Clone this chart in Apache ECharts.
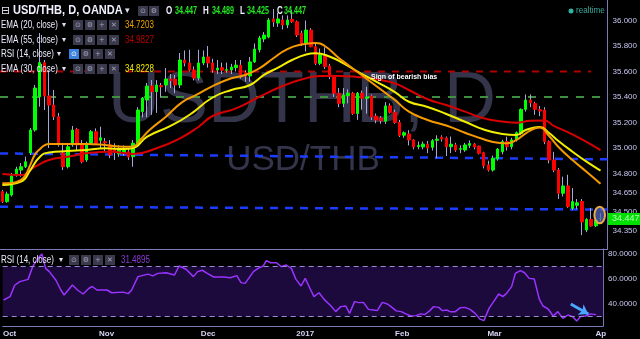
<!DOCTYPE html>
<html><head><meta charset="utf-8">
<script src="https://cdn.jsdelivr.net/npm/echarts@6/dist/echarts.min.js"></script>
<style>html,body{margin:0;padding:0;background:#000;}#c{width:640px;height:339px;}</style>
</head><body><div id="c"></div>
<script>
// ---------- DATA ----------
const openP = [
34.657,34.579,34.631,34.788,34.827,34.853,34.961,35.141,35.402,35.669,
35.408,35.337,35.245,34.961,34.853,35.024,35.147,35.024,34.906,35.037,
35.128,35.06,35.05,35.024,34.99,34.953,34.96,34.97,34.932,35.037,
35.285,35.376,35.486,35.442,35.49,35.494,35.54,35.541,35.494,35.69,
35.667,35.612,35.549,35.667,35.714,35.667,35.612,35.63,35.61,35.612,
35.63,35.65,35.59,35.565,35.675,35.77,35.855,35.87,36.012,35.98,
36.004,35.965,36.01,35.99,35.9,35.82,35.925,35.794,35.664,35.73,
35.643,35.56,35.43,35.35,35.41,35.43,35.27,35.43,35.39,35.408,
35.25,35.235,35.21,35.33,35.28,35.2,35.10,35.11,35.063,35.01,
35.008,35.03,35.005,35.06,35.085,35.078,35.01,35.024,34.99,34.984,
35.02,35.031,35.015,34.963,34.867,34.827,34.914,34.97,35.05,35.01,
35.063,35.115,35.303,35.376,35.35,35.30,35.298,35.05,34.906,34.827,
34.645,34.702,34.527,34.55,34.58,34.357,34.44,34.39,34.447];
const highP = [
34.67,34.657,34.804,34.853,34.882,34.932,35.157,35.494,35.902,35.69,
35.61,35.455,35.275,35.04,35.037,35.173,35.157,35.063,35.05,35.141,
35.154,35.167,35.078,35.063,35.037,35.02,35.02,35.0,35.063,35.32,
35.4,35.51,35.533,35.533,35.51,35.627,35.58,35.573,35.745,35.765,
35.77,35.64,35.77,35.765,35.8,35.7,35.69,35.67,35.67,35.66,
35.69,35.69,35.61,35.714,35.82,35.88,35.91,36.02,36.09,36.06,
36.04,36.04,36.083,36.0,35.92,36.0,35.94,35.82,35.78,35.79,
35.66,35.573,35.47,35.47,35.46,35.44,35.44,35.45,35.48,35.42,
35.27,35.25,35.36,35.35,35.30,35.22,35.13,35.14,35.07,35.05,
35.05,35.055,35.07,35.10,35.1,35.09,35.09,35.04,35.02,35.04,
35.06,35.04,35.02,34.97,34.9,34.94,35.0,35.065,35.089,35.08,
35.13,35.31,35.42,35.42,35.363,35.33,35.32,35.06,34.97,34.843,
34.775,34.79,34.686,34.60,34.60,34.45,34.53,34.45,34.489];
const lowP = [
34.569,34.571,34.62,34.775,34.775,34.843,34.945,35.128,35.324,35.298,
35.0,35.22,35.01,34.827,34.84,35.01,34.984,34.88,34.892,35.024,
35.024,34.997,34.97,34.92,34.906,34.93,34.94,34.906,34.853,35.02,
35.24,35.24,35.26,35.275,35.40,35.44,35.47,35.43,35.47,35.64,
35.6,35.53,35.53,35.65,35.63,35.59,35.58,35.58,35.59,35.58,
35.6,35.545,35.52,35.52,35.667,35.75,35.83,35.86,35.95,35.95,
35.93,35.94,35.98,35.87,35.8,35.757,35.79,35.65,35.65,35.62,
35.54,35.40,35.32,35.32,35.35,35.26,35.22,35.30,35.27,35.22,
35.195,35.19,35.19,35.27,35.19,35.086,35.08,35.02,34.99,34.99,
34.99,34.96,34.98,34.92,35.05,34.937,34.96,34.97,34.96,34.97,
35.0,34.99,34.95,34.84,34.815,34.815,34.90,34.95,34.98,34.99,
35.05,35.10,35.285,35.32,35.26,35.25,35.03,34.88,34.81,34.6,
34.62,34.53,34.513,34.52,34.317,34.34,34.383,34.38,34.425];
const closeP = [
34.579,34.639,34.78,34.835,34.853,34.892,35.141,35.47,35.669,35.408,
35.337,35.245,35.024,34.853,35.01,35.141,35.024,34.892,35.037,35.128,
35.037,35.08,35.04,34.945,34.975,34.984,34.99,34.93,35.037,35.298,
35.392,35.486,35.442,35.494,35.48,35.541,35.53,35.494,35.69,35.667,
35.612,35.549,35.667,35.714,35.667,35.612,35.627,35.61,35.615,35.635,
35.65,35.573,35.565,35.675,35.776,35.863,35.886,36.004,35.99,36.012,
35.965,36.004,35.99,35.886,35.82,35.925,35.794,35.664,35.73,35.638,
35.56,35.43,35.35,35.416,35.43,35.27,35.43,35.39,35.40,35.243,
35.22,35.214,35.33,35.28,35.2,35.1,35.12,35.063,35.008,35.02,
35.031,35.0,35.057,35.07,35.07,35.01,35.03,34.984,34.995,35.024,
35.035,35.008,34.958,34.86,34.827,34.92,34.992,35.05,35.01,35.063,
35.12,35.303,35.376,35.355,35.303,35.29,35.05,34.906,34.827,34.645,
34.702,34.54,34.58,34.57,34.42,34.44,34.388,34.435,34.447];

// EMA readings: [bar index, value]
const ema20 = [[0,34.723],[2,34.725],[4,34.75],[5,34.79],[6,34.87],[7,34.95],[8,34.99],[9,35.02],[10,35.031],[14,35.031],[18,35.031],[22,35.024],[26,35.01],[28,35.012],[29.5,35.063],[31.5,35.141],[35,35.245],[38.5,35.36],[41.5,35.416],[45,35.486],[49,35.547],[52,35.573],[55,35.625],[58,35.704],[61,35.776],[64,35.812],[67,35.824],[69,35.8],[72,35.706],[74,35.651],[76,35.596],[80,35.486],[84,35.376],[87,35.285],[91,35.22],[95,35.176],[99,35.12],[103,35.068],[106,35.042],[108,35.037],[110,35.063],[112,35.115],[114,35.155],[115,35.161],[117,35.094],[119,35.008],[122,34.906],[125,34.814],[128,34.72]];
const ema30 = [[0,34.71],[4,34.736],[6,34.827],[8,34.93],[10,34.965],[14,34.976],[18,34.984],[22,34.998],[26,34.992],[28,35.0],[31,35.089],[36,35.173],[40,35.259],[45,35.396],[49,35.455],[53,35.494],[56,35.573],[59,35.631],[62,35.69],[65,35.733],[67,35.743],[70,35.718],[73,35.663],[76,35.6],[80,35.52],[84,35.439],[87,35.363],[91,35.322],[95,35.267],[99,35.206],[103,35.145],[107,35.11],[110,35.102],[112,35.141],[115,35.165],[117,35.118],[119,35.055],[122,34.971],[125,34.893],[128,34.823]];
const ema55 = [[0,34.796],[4,34.788],[7,34.853],[10,34.906],[14,34.932],[18,34.958],[23,34.971],[28,34.953],[33,34.998],[38,35.076],[42,35.167],[45,35.251],[50,35.311],[55,35.402],[60,35.486],[64,35.537],[68,35.565],[72,35.565],[76,35.557],[80,35.539],[84,35.507],[87,35.455],[91,35.382],[95,35.337],[99,35.285],[103,35.233],[107,35.208],[110,35.198],[113,35.214],[116,35.216],[118,35.173],[121,35.125],[125,35.049],[128,34.983]];
const rsi14 = [[-0.3,43.2],[1.1,45.9],[2.1,55],[3.2,57.9],[5,59.7],[6,69.9],[7.1,76.5],[8,80],[8.8,68.5],[9.6,65.9],[11,59.2],[12.1,51.2],[12.8,47.2],[14.6,55.2],[15.7,51.2],[16.9,48],[18.2,52.6],[18.9,54],[19.9,51.2],[22.1,51.2],[23.1,49],[25.6,49.5],[26.7,48.3],[27.4,51],[28.8,61.9],[31,63.9],[32,62.5],[33.1,64.5],[34.9,65],[36.7,63.2],[37.7,70.4],[39.2,67.8],[40.8,61.9],[41.7,65.9],[42.7,67],[43.8,64.5],[45.2,61.6],[47.4,61.6],[48.8,61],[50.2,62.7],[51.1,57.1],[52,56.5],[53.8,65.9],[54.8,68.5],[55.9,70.4],[56.6,74.7],[57.5,73],[58.8,73],[59.8,69.9],[60.9,71.2],[62,68.5],[63,59.7],[64.1,54.4],[65,60.5],[66.2,51.2],[66.9,45.9],[68,49],[69.1,43.7],[70.6,38.4],[71.6,33.9],[72.7,37.9],[73.8,38.4],[74.6,32.5],[75.7,41.9],[76.6,41.1],[77.6,41.3],[78.7,35.7],[79.8,35.2],[80.6,34.7],[81.7,41.3],[82.8,40],[83.6,37.9],[84.7,34.5],[85.8,33.9],[86.8,32.1],[87.9,30.4],[89,30.7],[90,32.1],[90.9,31.6],[92,34.7],[92.8,37.9],[93.9,37.3],[94.7,34.7],[95.6,35.2],[96.4,33.9],[97.5,33.9],[98.6,37.1],[99.6,37.3],[100.7,35.7],[101.8,32.5],[102.8,28],[103.7,26.7],[104.8,36.5],[105.8,41.9],[106.9,48],[107.8,45.9],[108.6,48.5],[109.7,53.9],[110.5,64.5],[111.6,66.7],[112.5,65],[113.5,60.5],[114.6,60],[115.7,43.7],[116.5,38.4],[117.6,36],[118.7,30.4],[119.7,33.9],[120.8,28.5],[121.9,31.2],[122.9,29.9],[123.8,26.4],[124.6,29.9],[125.7,30.4],[126.8,32.1],[128,31.5]];

const priceTicks = [36.0,35.8,35.6,35.4,35.2,35.0,34.8,34.65,34.5,34.35];
const rsiTicks = [80,60,40];
const monthIdx = [1,22,44,65,86,106,129];
const monthLabels = ['Oct','Nov','Dec','2017','Feb','Mar','Ap'];
const redLevel = [[-0.5,35.6],[126,35.6]];
const greenLevel = [[-0.5,35.4],[128,35.4]];
const blueUpper = [[-0.5,34.957],[129.5,34.911]];
const blueLower = [[-0.5,34.54],[129.5,34.517]];
const rsiBands = [70,30];
const arrowPts = [[122.5,40],[126.3,32]];
const lastOHLC = ['34.447','34.489','34.425','34.447'];
const legendValues = ['34.7203','34.9827','34.8228','31.4895'];

// ---------- BUILD ----------
const N = 130;
const cats = Array.from({length:N},(_,i)=>String(i));
const wickData = openP.map((o,i)=>[o,closeP[i],lowP[i],highP[i]]);
const bodyData = openP.map((o,i)=>[o,closeP[i],Math.min(o,closeP[i]),Math.max(o,closeP[i])]);

const F = '"Liberation Sans", Arial, sans-serif';
function T(x,y,s,fill,size,bold,sx,font){
  return {type:'text',x:x,y:y,scaleX:sx||1,z:100,silent:true,
    style:{text:s,fill:fill,font:(bold?'bold ':'')+size+'px '+(font||F),textAlign:'left',textVerticalAlign:'middle',verticalAlign:'middle'}};
}
function B(x,y,glyph,bg,fg){
  return [{type:'rect',x:x,y:y,z:100,silent:true,shape:{width:10,height:10},style:{fill:bg}},
    {type:'text',x:x+5,y:y+5,z:101,silent:true,style:{text:glyph,fill:fg,font:'7px "DejaVu Sans"',textAlign:'center',textVerticalAlign:'middle',verticalAlign:'middle'}}];
}
const boxBg = '#3a3a4c', boxFg = '#a4a4bc';
const G = [];
// watermark
G.push({type:'text',x:302,y:102,z:-1,silent:true,style:{text:'USDTHB, D',fill:'#34354a',font:'72px '+F,textAlign:'center',textVerticalAlign:'middle',verticalAlign:'middle'}});
G.push({type:'text',x:303,y:160,z:-1,silent:true,style:{text:'USD/THB',fill:'#34354a',font:'35px '+F,textAlign:'center',textVerticalAlign:'middle',verticalAlign:'middle'}});
// title row
G.push(T(1,11,'⊟','#e8e8f8',11,false,1,'"DejaVu Sans"'));
G.push(T(13,11,'USD/THB, D, OANDA','#f0f0ff',12,true,0.92));
G.push(T(125,11,'▾','#e0e0f0',9,false,1,'"DejaVu Sans"'));
G.push(...B(138,6,'⊙',boxBg,boxFg),...B(149,6,'⚙',boxBg,boxFg));
const ohlcX = [[166,175],[203,212],[240,247],[277,284]];
['O','H','L','C'].forEach((k,i)=>{
  G.push(T(ohlcX[i][0],11,k,'#f0f0ff',10,true,0.8));
  G.push(T(ohlcX[i][1],11,lastOHLC[i],'#22e622',10,true,0.72));
});
function row(y,label,arrowX,bx,blue,val,valColor){
  G.push(T(1,y,label,'#ececff',10,false,0.8));
  G.push(T(arrowX,y,'▾','#e0e0f0',8,false,1,'"DejaVu Sans"'));
  const gl=['⊙','⚙','+','✕'];
  gl.forEach((g,i)=>{G.push(...B(bx+i*12,y-5,g,(blue&&i===0)?'#3a80dc':boxBg,(blue&&i===0)?'#ffffff':boxFg));});
  if(val) G.push(T(bx+52,y,val,valColor,10,false,0.8));
}
row(25,'EMA (20, close)',62,73,false,legendValues[0],'#f0a000');
row(40,'EMA (55, close)',62,73,false,legendValues[1],'#b80000');
row(54,'RSI (14, close)',57,69,true,null,null);
row(69,'EMA (30, close)',62,73,false,legendValues[2],'#eeee00');
row(260,'RSI (14, close)',59,69,false,legendValues[3],'#8c3ad8');
// annotation
G.push(T(371,77,'Sign of bearish bias','#ffffff',8,true,0.87));
// realtime
G.push({type:'circle',z:100,silent:true,shape:{cx:571,cy:11,r:2.5},style:{fill:'#2ab5a5'}});
G.push(T(576,11,'realtime','#3aa89c',9,false,0.9));
// last price box
G.push({type:'rect',z:100,silent:true,shape:{x:608,y:213,width:32,height:12},style:{fill:'#00e000'}});
G.push(T(612,219,lastOHLC[3],'#b6ffb6',9,false,1));
// highlight ellipse
G.push({type:'ellipse',z:50,silent:true,shape:{cx:599.7,cy:215,rx:5.3,ry:8.3},style:{fill:'rgba(80,100,190,0.75)',stroke:'#e8a848',lineWidth:2}});

const axisCol = '#7a7ab8';
const option = {
  backgroundColor:'#000000',
  animation:false,
  grid:[{left:0,right:32,top:0,height:249},{left:0,right:32,top:249,height:77}],
  xAxis:[
    {type:'category',gridIndex:0,data:cats,boundaryGap:true,axisLine:{show:true,onZero:false,lineStyle:{color:axisCol}},axisTick:{show:false},axisLabel:{show:false},splitLine:{show:false}},
    {type:'value',gridIndex:0,min:-0.5,max:N-0.5,show:false},
    {type:'category',gridIndex:1,data:cats,boundaryGap:true,axisLine:{show:true,onZero:false,lineStyle:{color:axisCol}},axisTick:{show:false},splitLine:{show:false},
      axisLabel:{interval:(i)=>monthIdx.indexOf(i)>=0,formatter:(v,i)=>{const j=monthIdx.indexOf(i);return j>=0?monthLabels[j]:'';},color:'#d4d4f4',fontSize:8,fontWeight:'bold',fontFamily:'Liberation Sans',margin:4}},
    {type:'value',gridIndex:1,min:-0.5,max:N-0.5,show:false}
  ],
  yAxis:[
    {type:'value',gridIndex:0,position:'right',min:34.2078,max:36.1608,splitLine:{show:false},axisLine:{show:true,onZero:false,lineStyle:{color:axisCol}},axisTick:{show:false},
      axisLabel:{customValues:priceTicks,formatter:(v)=>v.toFixed(3),color:'#c8c8f0',fontSize:8,fontFamily:'Liberation Sans',margin:5}},
    {type:'value',gridIndex:1,position:'right',min:22.4,max:84,splitLine:{show:false},axisLine:{show:true,onZero:false,lineStyle:{color:axisCol}},axisTick:{show:false},
      axisLabel:{customValues:rsiTicks,formatter:(v)=>v.toFixed(4),color:'#c8c8f0',fontSize:8,fontFamily:'Liberation Sans',margin:5}}
  ],
  series:[
    {type:'line',xAxisIndex:1,yAxisIndex:0,data:redLevel,symbol:'none',silent:true,z:1,lineStyle:{color:'#b00000',width:2,type:[7,7]}},
    {type:'line',xAxisIndex:1,yAxisIndex:0,data:greenLevel,symbol:'none',silent:true,z:1,lineStyle:{color:'#3f8f3f',width:2,type:[8,8]}},
    {type:'line',xAxisIndex:1,yAxisIndex:0,data:blueUpper,symbol:'none',silent:true,z:1,lineStyle:{color:'#1a3dff',width:2.5,type:[8,7]}},
    {type:'line',xAxisIndex:1,yAxisIndex:0,data:blueLower,symbol:'none',silent:true,z:1,lineStyle:{color:'#1a3dff',width:2.5,type:[8,7]}},
    {type:'candlestick',xAxisIndex:0,yAxisIndex:0,data:wickData,barWidth:1,z:2,silent:true,
      itemStyle:{color:'#a8a8d8',color0:'#a8a8d8',borderColor:'#a8a8d8',borderColor0:'#a8a8d8',borderColorDoji:'#a8a8d8',borderWidth:1}},
    {type:'candlestick',xAxisIndex:0,yAxisIndex:0,data:bodyData,barWidth:3,z:3,silent:true,
      itemStyle:{color:'#00ff00',color0:'#ff0000',borderColor:'#00ff00',borderColor0:'#ff0000',borderColorDoji:'#00ff00',borderWidth:1}},
    {type:'line',xAxisIndex:1,yAxisIndex:0,data:ema55,smooth:true,symbol:'none',silent:true,z:4,lineStyle:{color:'#d80000',width:2}},
    {type:'line',xAxisIndex:1,yAxisIndex:0,data:ema30,smooth:true,symbol:'none',silent:true,z:4,lineStyle:{color:'#f2ee00',width:2}},
    {type:'line',xAxisIndex:1,yAxisIndex:0,data:ema20,smooth:true,symbol:'none',silent:true,z:5,lineStyle:{color:'#f59a00',width:2}},
    {type:'line',xAxisIndex:3,yAxisIndex:1,data:rsi14,symbol:'none',silent:true,z:4,lineStyle:{color:'#9b33ff',width:1.5},
      markArea:{silent:true,itemStyle:{color:'#1c0a3c'},data:[[{yAxis:rsiBands[0]},{yAxis:rsiBands[1]}]]},
      markLine:{silent:true,symbol:['none','none'],label:{show:false},animation:false,data:[
        {yAxis:rsiBands[0],lineStyle:{color:'#9a8ad8',type:[5,4],width:1.2}},
        {yAxis:rsiBands[1],lineStyle:{color:'#9a8ad8',type:[5,4],width:1.2}},
        [{coord:arrowPts[0],symbol:'none',lineStyle:{color:'#4aa6ff',width:3,type:'solid'}},{coord:arrowPts[1],symbol:'arrow',symbolSize:9}]
      ]}}
  ],
  graphic:G
};
const chart = echarts.init(document.getElementById('c'),null,{renderer:'canvas'});
chart.setOption(option);
</script></body></html>
